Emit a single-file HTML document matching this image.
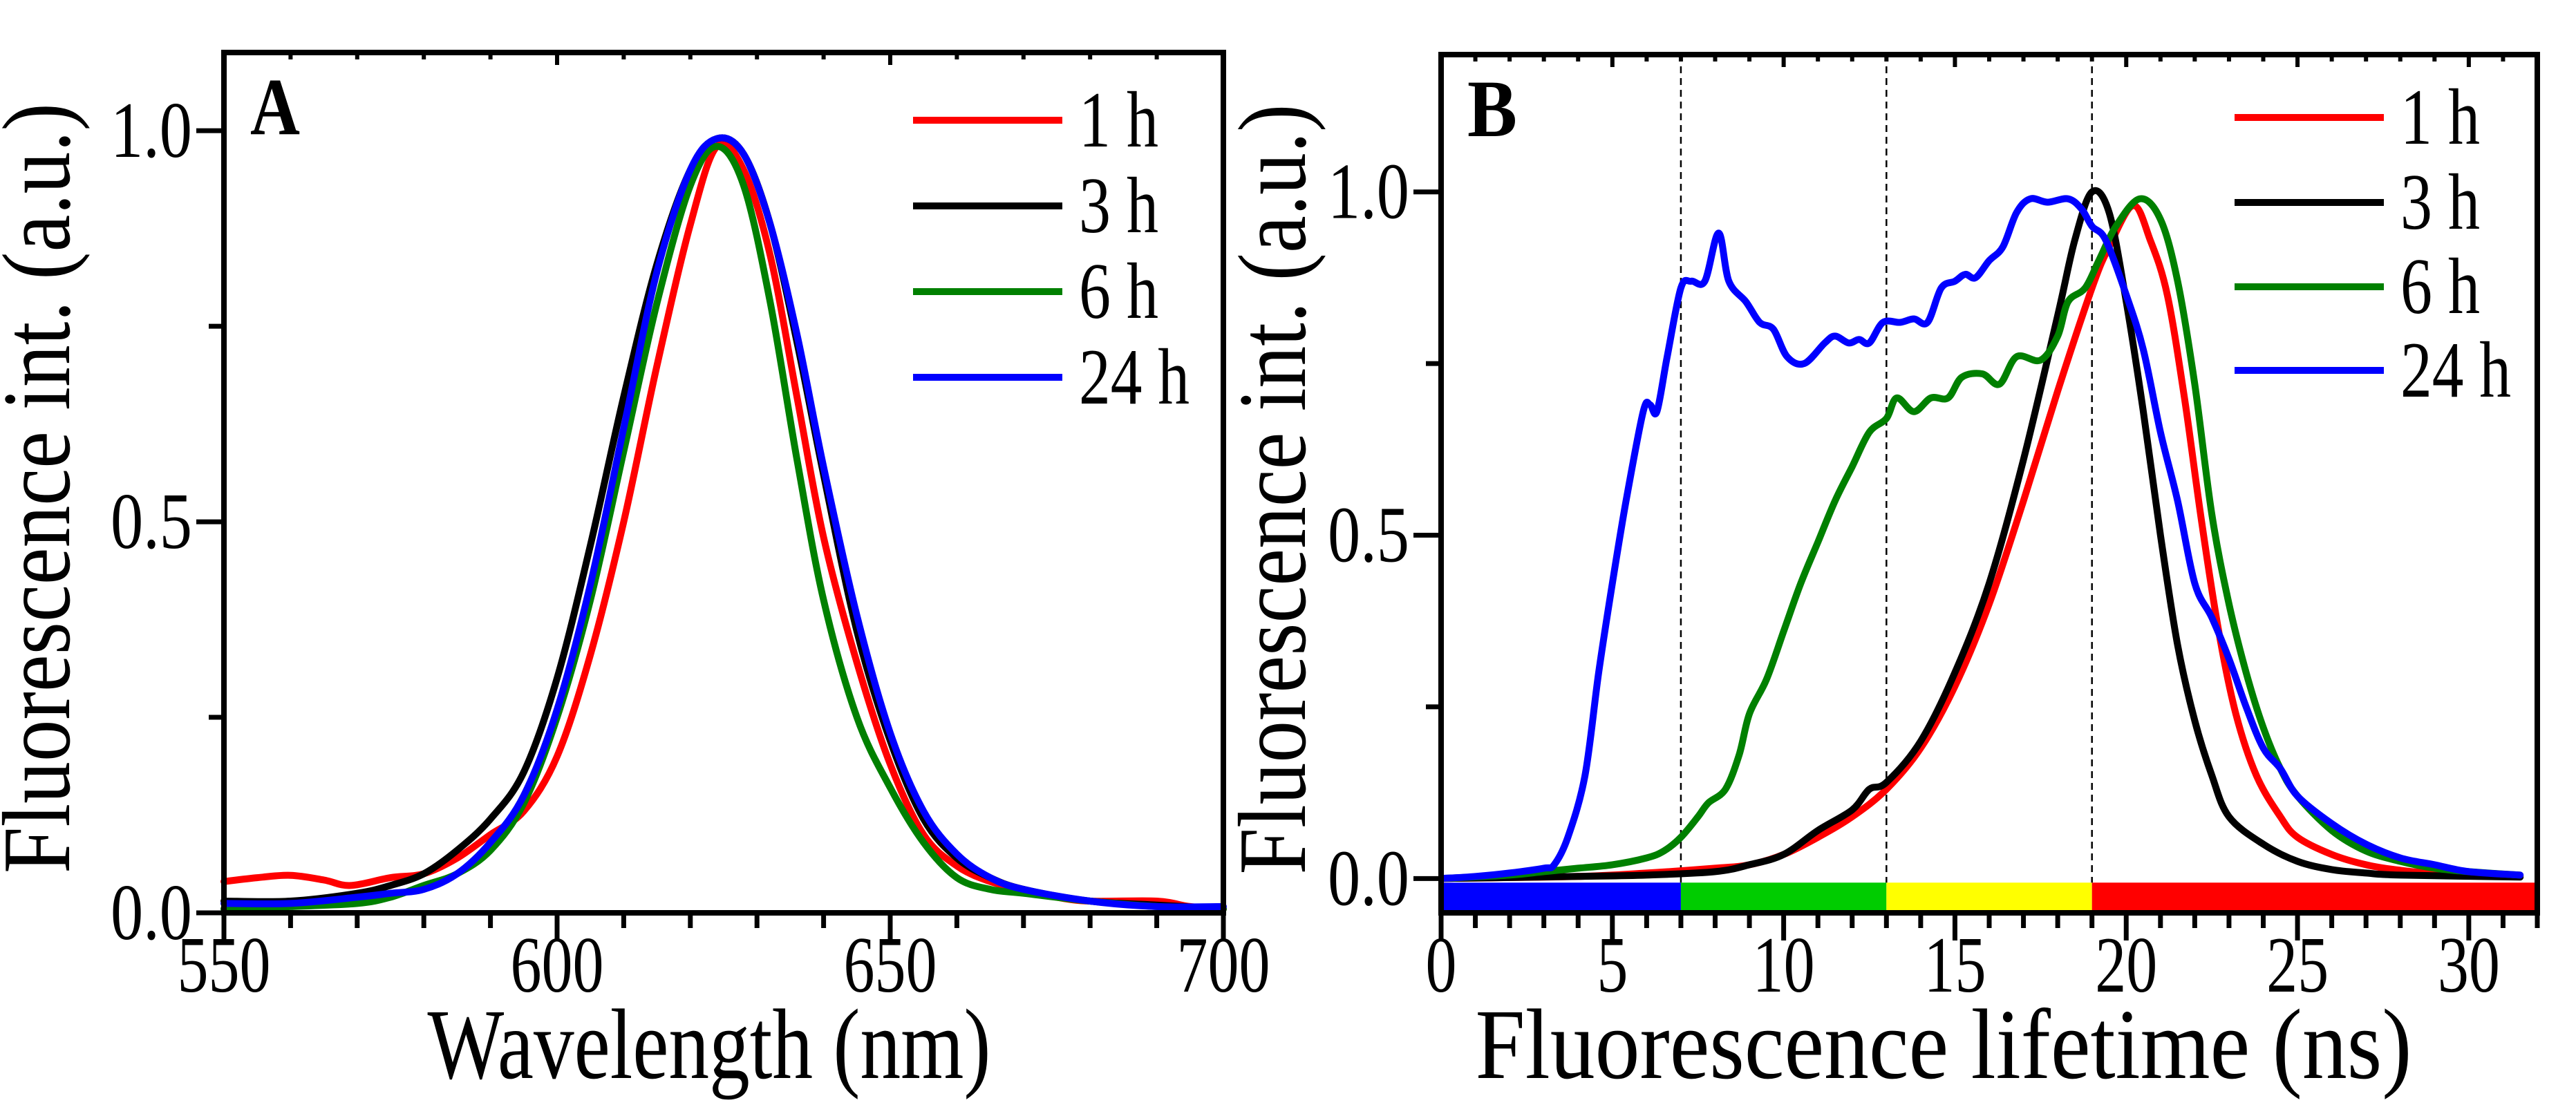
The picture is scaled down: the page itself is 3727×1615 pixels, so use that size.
<!DOCTYPE html>
<html><head><meta charset="utf-8"><style>
html,body{margin:0;padding:0;background:#fff}
svg{display:block}
svg text{font-family:"Liberation Serif","DejaVu Serif","Times New Roman",serif;fill:#000}
</style></head><body>
<svg id="fig" width="3727" height="1615" viewBox="0 0 3727 1615" xmlns="http://www.w3.org/2000/svg">
<rect width="3727" height="1615" fill="#fff"/>
<g id="pa"></g>
<g id="pb"></g>
</svg>
<script>
// Panel A data
const aSeriesNames = ["1 h","3 h","6 h","24 h"];
const aColors = ["#ff0000","#000000","#008000","#0000ff"];
const aX1 = [550,555,560,565,569,575,580,585,590,595,600,605,610,615,620,624,628,632,636,640,645,650,655,660,665,670,675,680,690,695,700];
const aY1 = [0.04,0.045,0.048,0.042,0.035,0.045,0.05,0.07,0.10,0.13,0.20,0.33,0.50,0.70,0.88,0.98,0.95,0.84,0.66,0.48,0.32,0.19,0.10,0.06,0.04,0.03,0.02,0.015,0.015,0.008,0.005];
const aX = [550,560,570,575,580,585,590,595,600,605,610,615,620,624,628,632,636,640,645,650,655,660,665,670,680,690,700];
const aY3 = [0.015,0.015,0.025,0.035,0.05,0.08,0.12,0.18,0.30,0.47,0.66,0.83,0.95,0.99,0.97,0.88,0.73,0.56,0.36,0.22,0.12,0.07,0.045,0.03,0.015,0.01,0.005];
const aY6 = [0.005,0.008,0.012,0.02,0.035,0.05,0.08,0.14,0.25,0.40,0.59,0.78,0.93,0.98,0.93,0.78,0.58,0.40,0.25,0.16,0.09,0.045,0.03,0.025,0.015,0.008,0.005];
const aY24 = [0.012,0.012,0.02,0.025,0.03,0.05,0.09,0.15,0.26,0.42,0.62,0.82,0.95,0.99,0.97,0.88,0.74,0.57,0.38,0.23,0.13,0.075,0.045,0.03,0.015,0.008,0.008];
const aXTicks = [550,600,650,700];
const aYTicks = [0.0,0.5,1.0];
const aYTickLabels = ["0.0","0.5","1.0"];

// Panel B data
const bX1 = [0,4,6,8,9,10,11,12,13,14,15,16,17,18,19,19.5,20.2,20.7,21.2,21.7,22.2,22.7,23.2,23.8,24.5,25,26,27,28,29,31.5];
const bY1 = [0,0.003,0.008,0.015,0.02,0.035,0.06,0.09,0.13,0.19,0.28,0.40,0.55,0.71,0.86,0.92,0.98,0.93,0.85,0.70,0.52,0.36,0.24,0.15,0.09,0.06,0.035,0.02,0.012,0.008,0.003];
const bX3 = [0,4,6,8,9,10,11,12,12.5,13,14,15,16,17,18,18.5,19,19.5,20,20.5,21,21.5,22,22.5,23,24,25,26,27,28,31.5];
const bY3 = [0,0.003,0.005,0.01,0.02,0.035,0.07,0.10,0.13,0.14,0.20,0.30,0.43,0.61,0.82,0.93,1.0,0.97,0.84,0.68,0.50,0.34,0.23,0.15,0.09,0.05,0.025,0.013,0.008,0.005,0.002];
const bX6 = [0,2,3,4,5,6,6.5,7,7.5,7.8,8.3,8.7,9,9.5,10,10.5,11,11.5,12,12.5,13,13.3,13.8,14.3,14.8,15.2,15.8,16.3,16.8,17.5,18,18.3,18.8,19.2,19.7,20.4,21,21.5,22,22.5,23,23.5,24,24.5,25,26,27,28,29,30,31.5];
const bY6 = [0,0.005,0.01,0.015,0.02,0.03,0.04,0.06,0.09,0.11,0.13,0.18,0.24,0.29,0.36,0.43,0.49,0.55,0.60,0.65,0.67,0.70,0.68,0.70,0.70,0.73,0.735,0.72,0.76,0.755,0.79,0.84,0.86,0.90,0.95,0.99,0.96,0.87,0.72,0.53,0.40,0.30,0.22,0.16,0.12,0.07,0.04,0.025,0.015,0.01,0.005];
const bX24 = [0,1,2,3,3.3,3.7,4.2,4.6,5,5.4,5.9,6.1,6.3,6.6,7,7.3,7.7,8.1,8.4,8.9,9.3,9.7,10.1,10.6,11.2,11.5,11.9,12.2,12.5,12.9,13.4,13.8,14.2,14.6,15,15.3,15.6,16,16.4,16.8,17.2,17.7,18.3,18.7,19,19.4,20,20.5,21,21.5,22,22.5,23,23.5,24,24.5,25,26,27,28,29,30,31.5];
const bY24 = [0,0.003,0.008,0.015,0.02,0.06,0.15,0.30,0.43,0.55,0.68,0.69,0.68,0.76,0.86,0.87,0.87,0.94,0.87,0.84,0.81,0.80,0.76,0.75,0.78,0.79,0.78,0.785,0.78,0.81,0.81,0.815,0.81,0.86,0.87,0.88,0.875,0.90,0.92,0.97,0.99,0.985,0.99,0.975,0.95,0.93,0.85,0.77,0.65,0.55,0.43,0.38,0.32,0.25,0.19,0.16,0.12,0.08,0.05,0.03,0.02,0.01,0.005];
const bXTicks = [0,5,10,15,20,25,30];
const bYTicks = [0.0,0.5,1.0];
const bYTickLabels = ["0.0","0.5","1.0"];
const bDividers = [7,13,19];
const bBands = [[0,7],[7,13],[13,19],[19,32]];
const bBandColors = ["#0000ff","#00cc00","#ffff00","#ff0000"];

const NS="http://www.w3.org/2000/svg";
function mk(parent,tag,attrs){const e=document.createElementNS(NS,tag);for(const k in attrs)e.setAttribute(k,attrs[k]);parent.appendChild(e);return e;}
function smooth(pts){let d="M"+pts[0][0].toFixed(1)+","+pts[0][1].toFixed(1);
 for(let i=0;i<pts.length-1;i++){const p0=pts[Math.max(0,i-1)],p1=pts[i],p2=pts[i+1],p3=pts[Math.min(pts.length-1,i+2)];
  const c1=[p1[0]+(p2[0]-p0[0])/6,p1[1]+(p2[1]-p0[1])/6],c2=[p2[0]-(p3[0]-p1[0])/6,p2[1]-(p3[1]-p1[1])/6];
  d+="C"+c1[0].toFixed(1)+","+c1[1].toFixed(1)+" "+c2[0].toFixed(1)+","+c2[1].toFixed(1)+" "+p2[0].toFixed(1)+","+p2[1].toFixed(1);}
 return d;}
function fit(t,len){t.setAttribute("textLength",len);t.setAttribute("lengthAdjust","spacingAndGlyphs");}

function panel(g,o){
 const sx=v=>o.L+(v-o.x0)/(o.x1-o.x0)*(o.R-o.L);
 const sy=v=>o.B-(v-o.y0)/(o.y1-o.y0)*(o.B-o.T);
 if(o.bands){o.bands.forEach((b,i)=>{const r=mk(g,"rect",{x:sx(b[0]),y:sy(-0.006),width:sx(b[1])-sx(b[0]),height:sy(-0.047)-sy(-0.006),fill:bBandColors[i]});
  
  });
  o.dividers.forEach(v=>{const l=mk(g,"line",{x1:sx(v),x2:sx(v),y1:o.T,y2:sy(-0.006),stroke:"#000","stroke-width":2.5,"stroke-dasharray":"10,7"});
  
  });}
 o.series.forEach((s,i)=>{const pts=s.x.map((x,j)=>[sx(x),sy(s.y[j])]);
  const p=mk(g,"path",{d:smooth(pts),fill:"none",stroke:aColors[i],"stroke-width":10,"stroke-linejoin":"round","stroke-linecap":"round"});
  
  });
 const fr=mk(g,"rect",{x:o.L,y:o.T,width:o.R-o.L,height:o.B-o.T,fill:"none",stroke:"#000","stroke-width":8});
 
 
 for(let v=o.x0;v<=o.x1+1e-9;v+=o.xminor){const big=o.xticks.some(t=>Math.abs(t-v)<1e-6);const x=sx(v);
  mk(g,"line",{x1:x,x2:x,y1:o.B,y2:o.B+(big?40:22),stroke:"#000","stroke-width":7});
  mk(g,"line",{x1:x,x2:x,y1:o.T,y2:o.T+(big?18:10),stroke:"#000","stroke-width":6});}
 o.xticks.forEach(v=>{const t=mk(g,"text",{x:sx(v),y:1435,"font-size":115,"text-anchor":"middle"});t.textContent=v;
  fit(t,String(v).length*45);
  
  });
 for(let v=0;v<=1.0001;v+=0.25){const big=Math.abs(v*2-Math.round(v*2))<1e-6;const y=sy(v);
  mk(g,"line",{x1:o.L,x2:o.L-(big?40:22),y1:y,y2:y,stroke:"#000","stroke-width":7});}
 o.yticks.forEach((v,i)=>{const t=mk(g,"text",{x:o.L-46,y:sy(v)+38,"font-size":115,"text-anchor":"end"});t.textContent=o.ylabels[i];
  fit(t,118);
  
  });
 const xt=mk(g,"text",{x:(o.L+o.R)/2+o.xtdx,y:1560,"font-size":145,"text-anchor":"middle"});xt.textContent=o.xtitle;
 fit(xt,o.xtlen);
 
 
 const yt=mk(g,"text",{x:0,y:0,"font-size":140,"text-anchor":"middle",transform:"translate("+(o.ytx)+","+((o.T+o.B)/2+8)+") rotate(-90)"});yt.textContent="Fluorescence int. (a.u.)";
 fit(yt,1115);
 
 
 const pl=mk(g,"text",{x:o.L+38,y:o.T+118,"font-size":118,"font-weight":"bold"});pl.textContent=o.label;
 fit(pl,72);
 
 
 o.legY.forEach((y,i)=>{const lg=mk(g,"g",{});
  
  
  mk(lg,"line",{x1:o.legX,x2:o.legX+216,y1:y-38,y2:y-38,stroke:aColors[i],"stroke-width":10});
  const t=mk(lg,"text",{x:o.legX+240,y:y,"font-size":115});t.textContent=aSeriesNames[i];
  fit(t,aSeriesNames[i].length===3?115:160);});
}
panel(document.getElementById("pa"),{L:324,R:1770,T:76,B:1321,x0:550,x1:700,y0:0,y1:1.1,xminor:10,xticks:aXTicks,yticks:aYTicks,ylabels:aYTickLabels,
 xtitle:"Wavelength (nm)",xtlen:815,xtdx:-21,ytx:100,label:"A",legX:1321,legY:[212,336,460,584],
 series:[{x:aX1,y:aY1},{x:aX,y:aY3},{x:aX,y:aY6},{x:aX,y:aY24}]});
panel(document.getElementById("pb"),{L:2085,R:3671,T:79,B:1321,x0:0,x1:32,y0:-0.05,y1:1.2,xminor:1,xticks:bXTicks,yticks:bYTicks,ylabels:bYTickLabels,
 xtitle:"Fluorescence lifetime (ns)",xtlen:1355,xtdx:-66,ytx:1888,label:"B",legX:3233,legY:[208,331,453,574],bands:bBands,dividers:bDividers,
 series:[{x:bX1,y:bY1},{x:bX3,y:bY3},{x:bX6,y:bY6},{x:bX24,y:bY24}]});
</script>
</body></html>
